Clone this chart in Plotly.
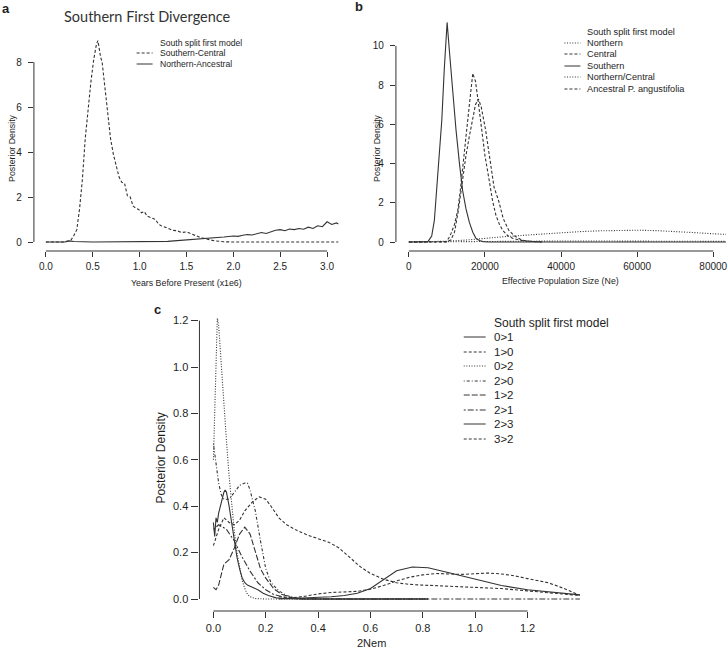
import plotly.graph_objects as go

W, H = 728, 651


def px(x):
    return x / W


def py(y):
    return 1 - y / H


# ---------------- Panel a: Southern First Divergence ----------------
a_sc_x = [0.00, 0.10, 0.20, 0.24, 0.27, 0.30, 0.33, 0.36, 0.39, 0.42, 0.45, 0.48, 0.51, 0.54,
          0.555, 0.57, 0.585, 0.60, 0.63, 0.66, 0.69, 0.72, 0.75, 0.78, 0.81, 0.84, 0.87, 0.90,
          0.93, 0.96, 0.99, 1.02, 1.05, 1.08, 1.11, 1.14, 1.17, 1.20, 1.23, 1.26, 1.30, 1.35,
          1.40, 1.45, 1.50, 1.55, 1.60, 1.65, 1.70, 1.75, 1.80, 1.90, 2.00, 2.50, 3.12]
a_sc_y = [0, 0, 0, 0.05, 0.1, 0.3, 0.55, 1.5, 2.8, 4.6, 6.0, 7.1, 8.1, 8.8,
          8.95, 8.5, 8.2, 8.0, 6.9, 5.6, 4.6, 3.9, 3.4, 2.9, 2.65, 2.6, 2.05, 2.0,
          1.6, 1.5, 1.45, 1.3, 1.35, 1.15, 1.1, 1.05, 1.0, 0.8, 0.72, 0.68, 0.6, 0.52,
          0.5, 0.42, 0.45, 0.35, 0.28, 0.2, 0.14, 0.1, 0.05, 0.01, 0, 0, 0]
a_na_x = [0.0, 0.2, 0.25, 0.3, 0.5, 1.0, 1.2, 1.3, 1.4, 1.5, 1.6, 1.7, 1.8, 1.9, 2.0, 2.05, 2.1,
          2.15, 2.2, 2.25, 2.3, 2.35, 2.4, 2.45, 2.5, 2.55, 2.6, 2.65, 2.7, 2.75, 2.8, 2.85, 2.9,
          2.95, 3.0, 3.05, 3.1, 3.12]
a_na_y = [0, 0, 0.05, 0.02, 0, 0, 0.01, 0.03, 0.06, 0.09, 0.12, 0.14, 0.18, 0.22, 0.27, 0.25, 0.3,
          0.33, 0.31, 0.36, 0.42, 0.38, 0.46, 0.52, 0.55, 0.5, 0.58, 0.55, 0.6, 0.57, 0.66, 0.6, 0.72,
          0.68, 0.9, 0.78, 0.85, 0.8]
a_xticks = [0.0, 0.5, 1.0, 1.5, 2.0, 2.5, 3.0]
a_xticktext = ["0.0", "0.5", "1.0", "1.5", "2.0", "2.5", "3.0"]
a_yticks = [0, 2, 4, 6, 8]
a_legend_title = "South split first model"
a_legend_labels = ["Southern-Central", "Northern-Ancestral"]
a_legend_styles = ["dashed", "solid"]

# ---------------- Panel b: Effective population size ----------------
b_south_x = [0, 4000, 5000, 6000, 6700, 7500, 8000, 8650, 9300, 10050, 10800, 11600, 12400,
             13300, 14150, 15000, 15900, 16800, 17600, 18500, 19500, 21000, 30000, 50000, 70000, 84000]
b_south_y = [0, 0, 0.02, 0.3, 1.1, 3.2, 4.5, 6.2, 8.8, 11.2, 9.4, 7.5, 5.7,
             4.0, 2.6, 1.7, 1.0, 0.5, 0.2, 0.08, 0.02, 0, 0, 0, 0, 0]
b_central_x = [0, 9000, 9800, 10500, 11100, 12000, 12840, 13500, 14150, 15000, 15900, 16800,
               17500, 18200, 18960, 20000, 21150, 22000, 22900, 23800, 24640, 26000, 27260,
               29000, 30750, 33000, 35000]
b_central_y = [0, 0, 0.02, 0.2, 0.44, 0.9, 1.6, 2.6, 3.7, 5.3, 7.0, 8.6,
               8.2, 7.2, 5.9, 4.4, 3.1, 2.1, 1.35, 0.9, 0.6, 0.32, 0.19,
               0.1, 0.05, 0.02, 0]
b_anc_x = [0, 10000, 11000, 12000, 13000, 14150, 15000, 15900, 16800, 17500, 18270, 19000,
           20180, 21300, 22380, 23600, 24800, 26220, 27800, 29700, 32000, 35000]
b_anc_y = [0, 0, 0.1, 0.5, 1.6, 3.3, 4.4, 5.4, 6.4, 7.0, 7.3, 6.9,
           5.7, 4.2, 2.8, 2.1, 1.2, 0.61, 0.3, 0.1, 0.03, 0]
b_nc_x = [0, 5000, 10000, 15000, 20000, 25000, 30000, 35000, 40000, 45000, 50000, 55000,
          60000, 65000, 70000, 75000, 80000, 84000]
b_nc_y = [0, 0.01, 0.04, 0.1, 0.2, 0.27, 0.34, 0.41, 0.47, 0.53, 0.57, 0.6,
          0.6, 0.58, 0.54, 0.48, 0.42, 0.38]
b_north_x = [0, 10000, 20000, 30000, 40000, 50000, 60000, 70000, 84000]
b_north_y = [0, 0.02, 0.04, 0.05, 0.05, 0.05, 0.04, 0.04, 0.03]
b_xticks = [0, 20000, 40000, 60000, 80000]
b_yticks = [0, 2, 4, 6, 8, 10]
b_legend_title = "South split first model"
b_legend_labels = ["Northern", "Central", "Southern", "Northern/Central", "Ancestral P. angustifolia"]
b_legend_styles = ["dotted", "dashed", "solid", "dotted", "dashed"]

# ---------------- Panel c: 2Nem ----------------
c01_x = [0.0, 0.005, 0.01, 0.015, 0.02, 0.03, 0.04, 0.045, 0.05, 0.06, 0.07, 0.08, 0.09, 0.10,
         0.11, 0.12, 0.13, 0.14, 0.15, 0.16, 0.17, 0.19, 0.21, 0.24, 0.28, 0.35, 0.5, 0.82]
c01_y = [0.33, 0.27, 0.35, 0.33, 0.37, 0.42, 0.46, 0.47, 0.46, 0.4, 0.32, 0.25, 0.18, 0.13,
         0.09, 0.07, 0.06, 0.055, 0.05, 0.045, 0.04, 0.025, 0.015, 0.005, 0.001, 0, 0, 0]
c10_x = [0.0, 0.02, 0.04, 0.06, 0.08, 0.10, 0.12, 0.15, 0.175, 0.20, 0.22, 0.25, 0.28, 0.32,
         0.36, 0.40, 0.44, 0.48, 0.52, 0.56, 0.60, 0.65, 0.70, 0.75, 0.80, 0.90, 1.00, 1.10,
         1.20, 1.30, 1.40]
c10_y = [0.23, 0.3, 0.35, 0.33, 0.32, 0.34, 0.38, 0.42, 0.44, 0.43, 0.40, 0.35, 0.32, 0.295,
         0.275, 0.26, 0.245, 0.22, 0.18, 0.14, 0.11, 0.085, 0.07, 0.063, 0.06, 0.055, 0.05, 0.045,
         0.035, 0.025, 0.015]
c02_x = [0.0, 0.005, 0.01, 0.015, 0.02, 0.03, 0.04, 0.05, 0.06, 0.07, 0.08, 0.09, 0.10, 0.11,
         0.12, 0.13, 0.14, 0.16, 0.2, 0.4, 0.82]
c02_y = [0.6, 0.8, 1.05, 1.21, 1.18, 1.0, 0.84, 0.68, 0.53, 0.4, 0.29, 0.2, 0.13, 0.08,
         0.045, 0.02, 0.01, 0.002, 0, 0, 0]
c20_x = [0.0, 0.005, 0.01, 0.02, 0.03, 0.04, 0.06, 0.08, 0.10, 0.12, 0.13, 0.14, 0.16, 0.18,
         0.20, 0.22, 0.25, 0.28, 0.32, 0.4, 0.82]
c20_y = [0.67, 0.63, 0.58, 0.5, 0.45, 0.43, 0.43, 0.46, 0.49, 0.5, 0.5, 0.47, 0.38, 0.25,
         0.13, 0.07, 0.035, 0.015, 0.003, 0, 0]
c12_x = [0.0, 0.01, 0.02, 0.03, 0.04, 0.06, 0.08, 0.10, 0.12, 0.14, 0.16, 0.18, 0.20, 0.23,
         0.26, 0.30, 0.35, 0.5, 0.82]
c12_y = [0.05, 0.04, 0.06, 0.11, 0.15, 0.17, 0.22, 0.28, 0.31, 0.28, 0.2, 0.13, 0.09, 0.045,
         0.02, 0.006, 0, 0, 0]
c21_x = [0.0, 0.02, 0.05, 0.08, 0.11, 0.14, 0.17, 0.20, 0.23, 0.28, 0.32, 0.6, 1.0, 1.40]
c21_y = [0.3, 0.32, 0.3, 0.25, 0.18, 0.12, 0.07, 0.04, 0.02, 0.005, 0, 0, 0, 0]
c23_x = [0.25, 0.30, 0.35, 0.40, 0.45, 0.50, 0.55, 0.60, 0.65, 0.70, 0.76, 0.82, 0.90, 1.00,
         1.10, 1.20, 1.30, 1.40]
c23_y = [0.0, 0.002, 0.003, 0.006, 0.01, 0.015, 0.025, 0.045, 0.085, 0.122, 0.138, 0.135, 0.113,
         0.085, 0.058, 0.04, 0.028, 0.018]
c32_x = [0.25, 0.30, 0.35, 0.40, 0.45, 0.50, 0.55, 0.60, 0.65, 0.70, 0.75, 0.80, 0.85, 0.90,
         0.95, 1.00, 1.05, 1.10, 1.15, 1.20, 1.28, 1.34, 1.40]
c32_y = [0.01, 0.005, 0.012, 0.022, 0.028, 0.03, 0.033, 0.042, 0.058, 0.078, 0.094, 0.104, 0.11,
         0.108, 0.106, 0.109, 0.112, 0.108, 0.1, 0.088, 0.07, 0.045, 0.016]
c_xticks = [0.0, 0.2, 0.4, 0.6, 0.8, 1.0, 1.2]
c_xticktext = ["0.0", "0.2", "0.4", "0.6", "0.8", "1.0", "1.2"]
c_yticks = [0.0, 0.2, 0.4, 0.6, 0.8, 1.0, 1.2]
c_yticktext = ["0.0", "0.2", "0.4", "0.6", "0.8", "1.0", "1.2"]
c_legend_title = "South split first model"
c_legend_labels = ["0>1", "1>0", "0>2", "2>0", "1>2", "2>1", "2>3", "3>2"]
c_legend_styles = ["solid", "dashed", "dotted", "dotdash", "longdash", "twodash", "solid", "dashed"]

# ---------------- styling ----------------
LINE = "#333333"
TEXT = "#1e1e1e"
FONT = "Liberation Sans, Arial, sans-serif"
DASH = {
    "solid": "solid",
    "dashed": "3px,2px",
    "dotted": "1px,1.6px",
    "dotdash": "1px,2px,3px,2px",
    "longdash": "6px,2px",
    "twodash": "2px,2px,6px,2px",
}

fig = go.Figure()


def add_line(x, y, style, xa, ya):
    fig.add_trace(go.Scatter(x=x, y=y, mode="lines", xaxis=xa, yaxis=ya,
                             line=dict(color=LINE, width=1.1, dash=DASH[style]),
                             showlegend=False, hoverinfo="skip"))


add_line(a_na_x, a_na_y, "solid", "x", "y")
add_line(a_sc_x, a_sc_y, "dashed", "x", "y")

add_line(b_north_x, b_north_y, "dotted", "x2", "y2")
add_line(b_nc_x, b_nc_y, "dotted", "x2", "y2")
add_line(b_south_x, b_south_y, "solid", "x2", "y2")
add_line(b_central_x, b_central_y, "dashed", "x2", "y2")
add_line(b_anc_x, b_anc_y, "dashed", "x2", "y2")

for xs, ys, st in [(c01_x, c01_y, "solid"), (c10_x, c10_y, "dashed"), (c02_x, c02_y, "dotted"),
                   (c20_x, c20_y, "dotdash"), (c12_x, c12_y, "longdash"), (c21_x, c21_y, "twodash"),
                   (c23_x, c23_y, "solid"), (c32_x, c32_y, "dashed")]:
    add_line(xs, ys, st, "x3", "y3")


def axis(domain, rng, tickvals, ticktext, size, ticklen, anchor, standoff):
    return dict(domain=domain, range=rng, anchor=anchor, tickvals=tickvals, ticktext=ticktext,
                ticks="outside", ticklen=ticklen, tickwidth=1, tickcolor=LINE,
                showgrid=False, zeroline=False, showline=False, ticklabelstandoff=standoff,
                ticklabeloverflow="allow",
                tickfont=dict(family=FONT, size=size, color=TEXT), fixedrange=True)


layout = dict(
    width=W, height=H, margin=dict(l=0, r=0, t=0, b=0),
    paper_bgcolor="white", plot_bgcolor="white", showlegend=False,
    xaxis=axis([px(34), px(351)], [-0.1277, 3.245], a_xticks, a_xticktext, 10, 5, "y", 1),
    yaxis=axis([py(251), py(33)], [-0.4, 9.29], a_yticks, [str(v) for v in a_yticks], 10, 5, "x", 4),
    xaxis2=axis([px(397), px(728)], [-3407, 83350], b_xticks, [str(v) for v in b_xticks], 10, 5, "y2", 1),
    yaxis2=axis([py(251), py(13)], [-0.459, 11.68], b_yticks, [str(v) for v in b_yticks], 10, 5, "x2", 4),
    xaxis3=axis([px(200), px(600)], [-0.0533, 1.4705], c_xticks, c_xticktext, 11, 6, "y3", 1),
    yaxis3=axis([py(611), py(304)], [-0.0517, 1.2716], c_yticks, c_yticktext, 11, 7, "x3", 1),
)
fig.update_layout(**layout)

shapes = []
# R-style axis lines spanning first to last tick
for xr, yr, ticks in [("x", "y domain", a_xticks), ("x2", "y2 domain", b_xticks), ("x3", "y3 domain", c_xticks)]:
    shapes.append(dict(type="line", xref=xr, yref=yr, x0=ticks[0], x1=ticks[-1], y0=0, y1=0,
                       line=dict(color=LINE, width=1)))
for xr, yr, ticks in [("x domain", "y", a_yticks), ("x2 domain", "y2", b_yticks), ("x3 domain", "y3", c_yticks)]:
    shapes.append(dict(type="line", xref=xr, yref=yr, x0=0, x1=0, y0=ticks[0], y1=ticks[-1],
                       line=dict(color=LINE, width=1)))

annotations = []


def text(x, y, s, size, xanchor="center", angle=0, bold=False, family=FONT, color=TEXT):
    annotations.append(dict(x=px(x), y=py(y), xref="paper", yref="paper", text=("<b>%s</b>" % s) if bold else s,
                            showarrow=False, xanchor=xanchor, yanchor="middle", textangle=angle,
                            font=dict(family=family, size=size, color=color)))


def legend(title, labels, styles, x_line0, x_line1, x_text, y_title, ys, tsize, size):
    text(x_text, y_title, title, tsize, xanchor="left")
    for lab, st, yy in zip(labels, styles, ys):
        shapes.append(dict(type="line", xref="paper", yref="paper", x0=px(x_line0), x1=px(x_line1),
                           y0=py(yy), y1=py(yy), line=dict(color=LINE, width=1, dash=DASH[st])))
        text(x_text, yy, lab, size, xanchor="left")


# Panel letters and titles
text(6, 8, "a", 13, bold=True)
text(360, 7, "b", 13, bold=True)
text(158, 309, "c", 13, bold=True)
text(148, 17, "Southern First Divergence", 14.5, family="Lato, Open Sans, sans-serif", color="#333333")

# Axis titles
text(187, 283, "Years Before Present (x1e6)", 8.8)
text(12, 148, "Posterior Density", 8.8, angle=-90)
text(562, 281, "Effective Population Size (Ne)", 8.8)
text(378, 148, "Posterior Density", 8.8, angle=-90)
text(373, 643, "2Nem", 11)
text(161, 458, "Posterior Density", 12, angle=-90)

# Legends
legend(a_legend_title, a_legend_labels, a_legend_styles, 137, 153, 158, 43, [53, 64], 8.6, 8.6)
legend(b_legend_title, b_legend_labels, b_legend_styles, 566, 582, 587, 32, [43, 54, 66, 77, 89], 9.2, 9.2)
legend(c_legend_title, c_legend_labels, c_legend_styles, 465, 487, 493, 323,
       [337, 352, 366, 381, 395, 410, 424, 439], 12, 11.5)

fig.update_layout(shapes=shapes, annotations=annotations)
fig.write_html("out.html", config={"displayModeBar": False},
               post_script="document.body.style.margin='0';document.body.style.padding='0';"
                           "document.body.style.overflow='hidden';")
